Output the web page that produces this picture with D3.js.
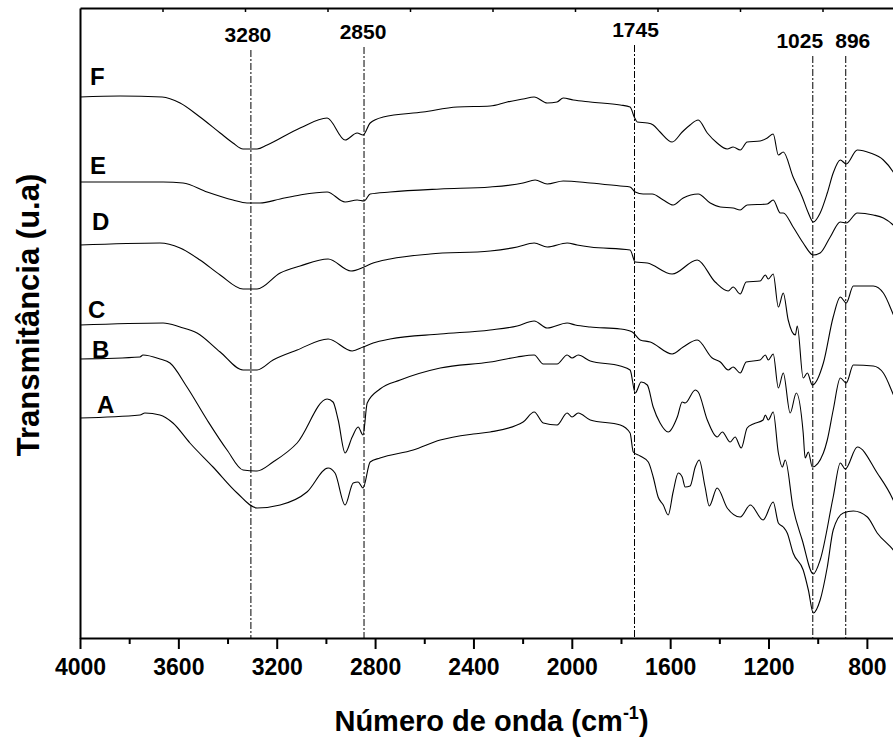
<!DOCTYPE html>
<html>
<head>
<meta charset="utf-8">
<script src="https://cdn.jsdelivr.net/npm/d3@7"></script>
<style>
  body { margin: 0; background: #fff; }
  svg { display: block; font-family: "Liberation Sans", Arial, sans-serif; font-weight: bold; }
</style>
</head>
<body>
<div id="chart"></div>
<script>
// FTIR spectra, [wavenumber (cm-1), transmittance (u.a)]
const seriesA = [[4000,220],[3756,223],[3736,225],[3675,223],[3622,215],[3553,195],[3459,171],[3361,145],[3280,130],[3186,133],[3077,146],[2991,170],[2963,165],[2922,133],[2889,155],[2869,156],[2849,150],[2820,176],[2780,180],[2645,188],[2535,198],[2401,204],[2332,206],[2198,216],[2153,226],[2116,215],[2060,213],[2019,225],[1999,221],[1974,225],[1925,218],[1803,213],[1763,205],[1750,186],[1722,182],[1689,176],[1669,161],[1649,141],[1628,133],[1608,123],[1588,146],[1567,165],[1551,161],[1539,151],[1519,152],[1498,171],[1482,178],[1458,151],[1441,132],[1409,150],[1368,130],[1315,121],[1274,133],[1222,118],[1181,136],[1160,115],[1140,111],[1124,105],[1100,85],[1059,68],[1038,48],[1018,25],[990,38],[961,71],[937,108],[896,125],[855,127],[798,121],[758,105],[693,88],[664,78]];
const seriesB = [[4000,279],[3756,281],[3744,283],[3675,279],[3634,275],[3565,251],[3483,218],[3402,188],[3337,168],[3280,167],[3215,176],[3117,195],[2995,239],[2971,236],[2950,218],[2922,185],[2893,201],[2869,211],[2849,203],[2832,235],[2780,249],[2698,258],[2535,270],[2332,276],[2222,281],[2153,283],[2116,274],[2060,274],[2019,283],[1999,280],[1974,283],[1925,277],[1803,272],[1763,268],[1742,245],[1718,256],[1693,253],[1669,231],[1641,215],[1608,206],[1571,221],[1551,236],[1539,235],[1498,248],[1486,246],[1449,218],[1409,201],[1388,206],[1356,196],[1336,201],[1311,190],[1287,210],[1262,214],[1222,218],[1213,223],[1201,218],[1181,226],[1160,185],[1144,171],[1132,178],[1100,130],[1063,98],[1018,64],[990,78],[937,141],[908,175],[888,169],[839,191],[758,165],[693,138],[664,120]];
const seriesC = [[4000,313],[3662,315],[3593,311],[3524,305],[3430,286],[3337,268],[3280,268],[3215,278],[3117,288],[2991,299],[2893,287],[2849,291],[2808,295],[2739,299],[2535,304],[2332,308],[2222,312],[2153,317],[2100,310],[2019,315],[1986,313],[1925,311],[1803,309],[1754,306],[1722,298],[1681,296],[1592,284],[1547,291],[1490,298],[1429,280],[1396,276],[1364,268],[1344,271],[1315,265],[1291,276],[1234,278],[1213,283],[1201,278],[1181,284],[1160,250],[1140,265],[1112,225],[1087,245],[1059,205],[1051,180],[1038,186],[1022,171],[977,185],[961,198],[937,228],[908,260],[884,255],[855,273],[774,272],[733,265],[697,246],[664,225]];
const seriesD = [[4000,393],[3675,395],[3593,390],[3512,378],[3430,363],[3337,349],[3280,349],[3186,365],[3105,372],[2991,379],[2898,367],[2845,371],[2808,375],[2739,379],[2576,384],[2332,387],[2222,391],[2153,395],[2100,391],[2019,395],[1978,393],[1925,391],[1763,388],[1742,376],[1693,375],[1592,364],[1490,378],[1417,356],[1364,347],[1344,351],[1315,344],[1291,356],[1234,357],[1213,363],[1201,359],[1181,364],[1160,331],[1140,345],[1120,318],[1091,303],[1083,312],[1059,260],[1042,265],[1022,253],[977,275],[937,321],[908,341],[884,335],[855,352],[774,352],[733,345],[697,326],[664,305]];
const seriesE = [[4000,456],[3662,456],[3581,455],[3483,446],[3378,438],[3321,435],[3268,435],[3186,439],[3105,443],[2995,446],[2922,436],[2873,438],[2845,437],[2820,444],[2739,446],[2535,449],[2332,451],[2198,455],[2149,458],[2100,454],[2035,457],[1925,455],[1803,452],[1763,451],[1742,446],[1710,444],[1673,444],[1628,438],[1588,433],[1547,440],[1486,444],[1437,435],[1396,431],[1344,430],[1315,428],[1287,433],[1205,434],[1181,438],[1152,425],[1140,425],[1100,411],[1059,395],[1018,383],[990,385],[949,401],[908,416],[884,415],[839,425],[774,423],[733,420],[693,413],[664,405]];
const seriesF = [[4000,541],[3837,542],[3666,541],[3593,535],[3512,521],[3430,505],[3378,495],[3337,489],[3280,489],[3239,493],[3105,510],[2995,520],[2922,498],[2873,505],[2849,503],[2820,515],[2767,521],[2605,526],[2466,531],[2332,532],[2263,536],[2198,539],[2153,541],[2100,535],[2060,536],[2035,540],[1994,538],[1925,536],[1803,533],[1763,531],[1746,521],[1734,516],[1693,515],[1669,513],[1641,506],[1592,496],[1551,506],[1519,513],[1486,518],[1449,505],[1409,495],[1368,489],[1344,491],[1315,488],[1287,496],[1234,497],[1205,500],[1181,504],[1160,483],[1140,486],[1100,461],[1063,441],[1038,425],[1018,416],[990,425],[961,445],[937,465],[908,478],[884,474],[839,488],[786,485],[733,478],[693,466],[664,453]];

const seriesNames = ["A", "B", "C", "D", "E", "F"];
const seriesData = [seriesA, seriesB, seriesC, seriesD, seriesE, seriesF];

// band markers
const peakPositions = [3305, 2845, 1745, 1020, 886];
const peakLabels = ["3280", "2850", "1745", "1025", "896"];

const majorTicks = [4000, 3600, 3200, 2800, 2400, 2000, 1600, 1200, 800];
const minorTicks = [3800, 3400, 3000, 2600, 2200, 1800, 1400, 1000];

// layout
const width = 893, height = 740;
const plot = {left: 80, right: 905, top: 8, bottom: 638};

const svg = d3.select("#chart").append("svg")
    .attr("width", width)
    .attr("height", height);

svg.append("rect").attr("width", width).attr("height", height).attr("fill", "#fff");

const x = d3.scaleLinear().domain([4000, 645]).range([plot.left, plot.right]);
const y = d3.scaleLinear().domain([0, 630]).range([plot.bottom, plot.top]);

// peak guide lines (dash-dot)
const labelShift = [-3, -1, 1, -13, 7];
const labelBase = [42, 39, 37, 48, 48];
peakPositions.forEach(function(p, i) {
  svg.append("line")
      .attr("x1", x(p)).attr("x2", x(p))
      .attr("y1", labelBase[i] + 8).attr("y2", plot.bottom)
      .attr("stroke", "#000")
      .attr("stroke-width", 1)
      .attr("stroke-dasharray", "7,2,2,2");
  svg.append("text")
      .attr("x", x(p) + labelShift[i])
      .attr("y", labelBase[i])
      .attr("text-anchor", "middle")
      .attr("font-size", 21)
      .text(peakLabels[i]);
});

// spectra
const line = d3.line()
    .x(function(d) { return x(d[0]); })
    .y(function(d) { return y(d[1]); })
    .curve(d3.curveMonotoneX);

svg.append("g")
  .selectAll("path")
  .data(seriesData)
  .join("path")
    .attr("d", line)
    .attr("fill", "none")
    .attr("stroke", "#000")
    .attr("stroke-width", 1.1);

// curve letters
const letterDx = [17, 12, 8, 12, 10, 10];
const letterDy = [-5, -1, -7, -15, -8, -12];
svg.append("g")
  .selectAll("text")
  .data(seriesData)
  .join("text")
    .attr("x", function(d, i) { return x(d[0][0]) + letterDx[i]; })
    .attr("y", function(d, i) { return y(d[0][1]) + letterDy[i]; })
    .attr("font-size", 24)
    .text(function(d, i) { return seriesNames[i]; });

// bottom axis
const xAxis = svg.append("g")
    .attr("transform", "translate(0," + plot.bottom + ")")
    .call(d3.axisBottom(x).tickValues(majorTicks).tickSize(11).tickSizeOuter(0).tickPadding(10).tickFormat(d3.format("d")));
xAxis.selectAll("text").attr("font-size", 23).attr("font-family", "Liberation Sans, Arial, sans-serif").attr("font-weight", "bold").attr("fill", "#000");
xAxis.select(".domain").attr("stroke-width", 2);
xAxis.selectAll(".tick line").attr("stroke-width", 2);

svg.append("g")
    .attr("transform", "translate(0," + plot.bottom + ")")
    .call(d3.axisBottom(x).tickValues(minorTicks).tickSize(6).tickSizeOuter(0).tickFormat(""))
    .call(function(g) { g.select(".domain").remove(); })
    .selectAll("line").attr("stroke-width", 2);

// top frame with its own small ticks
const topScale = d3.scaleLinear().domain([0, 10]).range([plot.left, plot.right]);
const topAxis = svg.append("g")
    .attr("transform", "translate(0," + plot.top + ")")
    .call(d3.axisBottom(topScale).tickValues(d3.range(1, 10)).tickSize(4).tickSizeOuter(0).tickFormat(""));
topAxis.select(".domain").attr("stroke-width", 2);
topAxis.selectAll("line").attr("stroke-width", 1.5);

// left axis (no ticks)
svg.append("g")
    .attr("transform", "translate(" + plot.left + ",0)")
    .call(d3.axisLeft(y).tickValues([]).tickSizeOuter(0))
    .select(".domain").attr("stroke-width", 2);

// titles
const xTitle = svg.append("text")
    .attr("x", (plot.left + plot.right) / 2 - 1)
    .attr("y", 731)
    .attr("text-anchor", "middle")
    .attr("font-size", 29);
xTitle.append("tspan").text("Número de onda (cm");
xTitle.append("tspan").attr("font-size", 18).attr("dy", -12).text("-1");
xTitle.append("tspan").attr("dy", 12).text(")");

svg.append("text")
    .attr("transform", "translate(39,315) rotate(-90)")
    .attr("text-anchor", "middle")
    .attr("font-size", 31)
    .text("Transmitância (u.a)");
</script>
</body>
</html>
